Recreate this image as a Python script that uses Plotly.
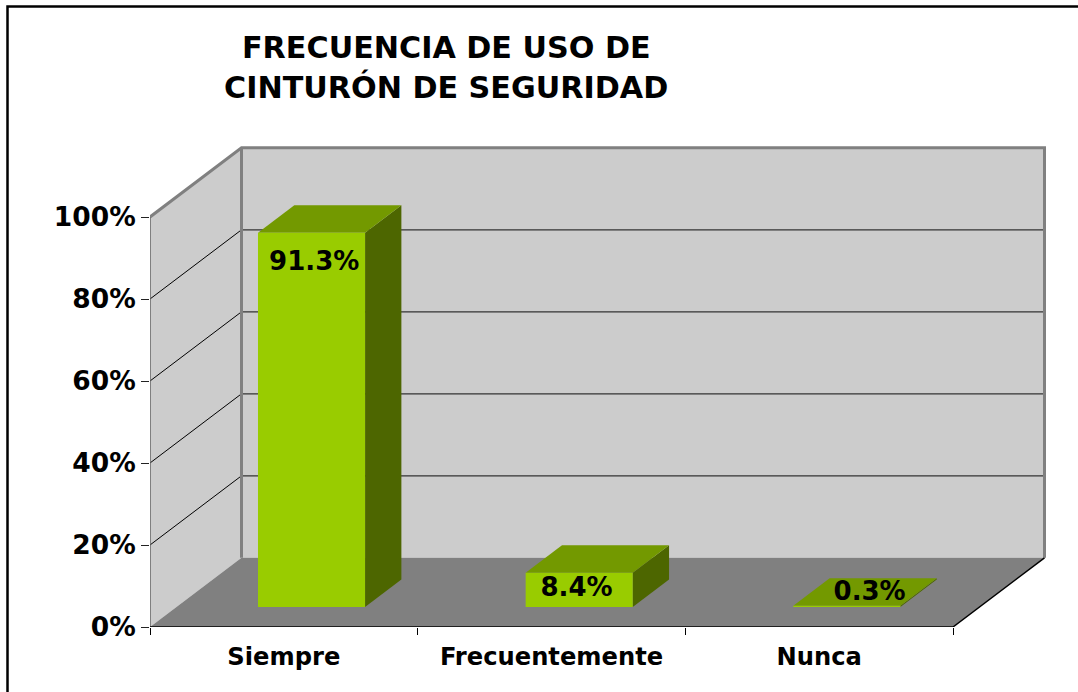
import plotly.graph_objects as go

categories = ["Siempre", "Frecuentemente", "Nunca"]
values = [91.3, 8.4, 0.3]
labels = ["91.3%", "8.4%", "0.3%"]
y_ticks = [0, 20, 40, 60, 80, 100]
title_lines = ["FRECUENCIA DE USO DE", "CINTURÓN DE SEGURIDAD"]

W, H = 1078, 692
L, BASE = 150.0, 627.0
CAT_PX = 803.0 / 3
UNIT_PX = 4.1
DEPTH_X = 91.5 / CAT_PX
DEPTH_Y = 69.2 / UNIT_PX
BAR_START, BAR_W = 0.305, 0.4
BAR_D0, BAR_D1 = 0.288, 0.685

FONT = "DejaVu Sans"
WALL, FLOOR, EDGE = "#CCCCCC", "#808080", "#808080"
FRONT, TOP, SIDE = "#99CC00", "#739900", "#4D6600"


def proj(x, v, d):
    return x + d * DEPTH_X, v + d * DEPTH_Y


def poly(pts, fill=None, line=None, width=1):
    xs, ys = zip(*[proj(*p) for p in pts])
    return go.Scatter(
        x=list(xs), y=list(ys), mode="lines",
        fill="toself" if fill else None, fillcolor=fill,
        line=dict(color=line or fill, width=width if line else 0),
        hoverinfo="skip", showlegend=False, cliponaxis=False,
    )


n = len(categories)
top_v = y_ticks[-1]
fig = go.Figure()

# walls and floor
fig.add_trace(poly([(0, 0, 0), (0, top_v, 0), (0, top_v, 1), (0, 0, 1), (0, 0, 0)], fill=WALL))
fig.add_trace(poly([(0, 0, 1), (0, top_v, 1), (n, top_v, 1), (n, 0, 1), (0, 0, 1)], fill=WALL))
fig.add_trace(poly([(0, 0, 0), (n, 0, 0), (n, 0, 1), (0, 0, 1), (0, 0, 0)], fill=FLOOR))

# grid lines
for v in y_ticks[1:-1]:
    fig.add_trace(poly([(0, v, 0), (0, v, 1)], line="#000000", width=1))
    fig.add_trace(poly([(0, v, 1), (n, v, 1)], line="#333333", width=1.2))

# wall edges
fig.add_trace(poly([(0, top_v, 0), (0, top_v, 1), (n, top_v, 1), (n, 0, 1)], line=EDGE, width=3))
fig.add_trace(poly([(0, top_v, 1), (0, 0, 1)], line=EDGE, width=3))
fig.add_trace(poly([(0, 0, 0), (0, top_v, 0)], line="#666666", width=1.5))
fig.add_trace(poly([(0, 0, 0), (n, 0, 0), (n, 0, 1)], line="#000000", width=1.5))

# bars
for i, v in enumerate(values):
    x0, x1 = i + BAR_START, i + BAR_START + BAR_W
    fig.add_trace(poly([(x1, 0, BAR_D0), (x1, v, BAR_D0), (x1, v, BAR_D1), (x1, 0, BAR_D1), (x1, 0, BAR_D0)], fill=SIDE))
    fig.add_trace(poly([(x0, v, BAR_D0), (x1, v, BAR_D0), (x1, v, BAR_D1), (x0, v, BAR_D1), (x0, v, BAR_D0)], fill=TOP))
    fig.add_trace(poly([(x0, 0, BAR_D0), (x1, 0, BAR_D0), (x1, v, BAR_D0), (x0, v, BAR_D0), (x0, 0, BAR_D0)], fill=FRONT))

# data labels (offsets: along x in categories, along y in percent)
label_offsets = [(0.01, -7.6), (-0.01, -4.2), (0.085, 3.1)]
lx, ly = [], []
for i, v in enumerate(values):
    px, py = proj(i + BAR_START + BAR_W / 2, v, BAR_D0)
    lx.append(px + label_offsets[i][0])
    ly.append(py + label_offsets[i][1])
fig.add_trace(go.Scatter(
    x=lx, y=ly, mode="text", text=labels, textposition="middle center",
    textfont=dict(family=FONT, size=26, color="#000000", weight="bold"),
    hoverinfo="skip", showlegend=False, cliponaxis=False,
))

title_centres = [(446.5, 47), (445.5, 87)]
fig.update_layout(
    width=W, height=H,
    autosize=False,
    margin=dict(l=L, r=0, t=0, b=H - BASE, pad=0),
    paper_bgcolor="#FFFFFF", plot_bgcolor="#FFFFFF",
    showlegend=False,
    font=dict(family=FONT, color="#000000"),
    xaxis=dict(
        range=[0, (W - L) / CAT_PX], showgrid=False, zeroline=False, showline=False,
        tickmode="array", tickvals=[i + 0.5 for i in range(n)], ticktext=categories,
        ticks="", tickfont=dict(family=FONT, size=24.2, color="#000000", weight="bold"),
        ticklabelstandoff=13,
        minor=dict(tickmode="array", tickvals=list(range(n + 1)), ticks="outside",
                   ticklen=7, tickwidth=1, tickcolor="#000000", showgrid=False),
    ),
    yaxis=dict(
        range=[0, BASE / UNIT_PX], showgrid=False, zeroline=False, showline=False,
        tickmode="array", tickvals=y_ticks, ticktext=[f"{t}%" for t in y_ticks],
        ticks="outside", ticklen=8, tickwidth=1, tickcolor="#222222",
        tickfont=dict(family=FONT, size=26.5, color="#000000", weight="bold"),
        ticklabelstandoff=0,
    ),
    annotations=[dict(
        text=f"<b>{line}</b>",
        xref="paper", yref="paper",
        x=(cx - L) / (W - L), y=1 - cy / BASE,
        xanchor="center", yanchor="middle", showarrow=False, align="center",
        font=dict(family=FONT, size=30.2, color="#000000"),
    ) for line, (cx, cy) in zip(title_lines, title_centres)],
    shapes=[dict(
        type="rect", xref="paper", yref="paper", layer="above",
        x0=(7.5 - L) / (W - L), x1=(W + 20 - L) / (W - L),
        y0=1 - (H + 20) / BASE, y1=1 - 6.5 / BASE,
        line=dict(color="#000000", width=2.5), fillcolor="rgba(0,0,0,0)",
    )],
)

fig.write_html("out.html", config=dict(displayModeBar=False),
               post_script="document.body.style.margin='0';document.body.style.overflow='hidden';")
